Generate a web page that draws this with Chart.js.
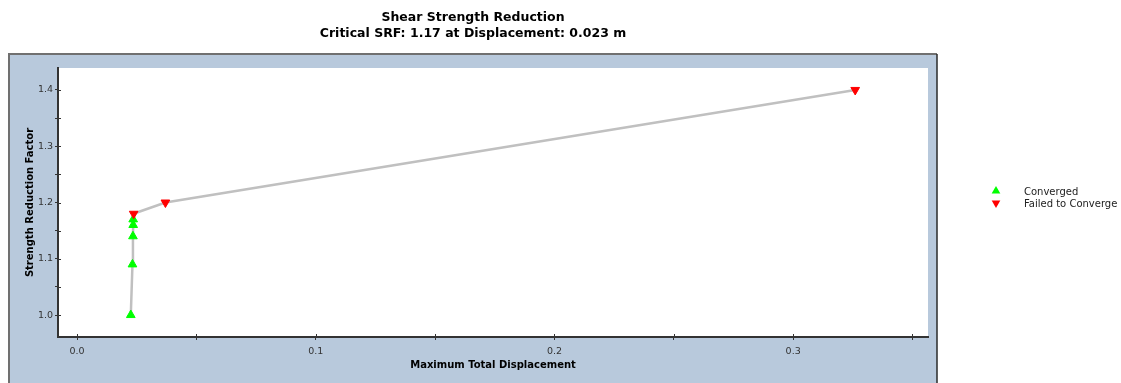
<!DOCTYPE html>
<html>
<head>
<meta charset="utf-8">
<title>Shear Strength Reduction</title>
<script src="https://cdn.jsdelivr.net/npm/chart.js@4/dist/chart.umd.min.js"></script>
<style>
  html, body { margin: 0; padding: 0; background: #ffffff; overflow: hidden; }
  #c { display: block; }
</style>
</head>
<body>
<canvas id="c" width="1121" height="383"></canvas>
<script>
// SRF analysis stages: maximum total displacement (m) vs strength reduction factor
const displacement = [0.0225, 0.0232, 0.0234, 0.0235, 0.0235, 0.0237, 0.0370, 0.3260];
const srf          = [1.00,   1.09,   1.14,   1.16,   1.17,   1.18,   1.20,   1.40];
const converged    = [true,   true,   true,   true,   true,   false,  false,  false];

const xTickLabels = [0.0, 0.1, 0.2, 0.3];
const yTickLabels = [1.0, 1.1, 1.2, 1.3, 1.4];

const seriesNames = ['Converged', 'Failed to Converge'];
const titleLines = ['Shear Strength Reduction', 'Critical SRF: 1.17 at Displacement: 0.023 m'];
const xAxisTitle = 'Maximum Total Displacement';
const yAxisTitle = 'Strength Reduction Factor';

// ---- build chart data from the arrays above ----
const allPoints = displacement.map((x, i) => ({ x, y: srf[i] }));
const okPoints = allPoints.filter((p, i) => converged[i]);
const failPoints = allPoints.filter((p, i) => !converged[i]);

const PANEL = '#b8c9dc';
const GREEN = '#00ff00';
const RED = '#ff0000';

Chart.defaults.font.family = '"DejaVu Sans", Verdana, sans-serif';
Chart.defaults.color = '#333333';

const near = (v, list) => list.some(t => Math.abs(t - v) < 1e-6);

// major ticks every 0.1 with a minor tick halfway between them
function halfStepTicks(scale) {
  const step = 0.05;
  const ticks = [];
  for (let k = Math.ceil(scale.min / step - 1e-9); k * step <= scale.max + 1e-9; k++) {
    ticks.push({ value: Math.round(k * step * 1000) / 1000 });
  }
  scale.ticks = ticks;
}

// Blue frame behind the plot, white plotting area inside it
const framePlugin = {
  id: 'frame',
  beforeDraw(chart) {
    const { ctx, chartArea: a } = chart;
    const left = chart.scales.y.left;
    const right = chart.scales.yPad.right;
    const top = a.top - 14;
    const bottom = chart.height + 2;
    ctx.save();
    ctx.fillStyle = PANEL;
    ctx.fillRect(left, top, right - left, bottom - top);
    ctx.fillStyle = '#ffffff';
    ctx.fillRect(a.left, a.top, a.right - a.left, a.bottom - a.top);
    // frame edges
    ctx.lineWidth = 2;
    ctx.strokeStyle = '#707070';
    ctx.beginPath();
    ctx.moveTo(left, bottom);
    ctx.lineTo(left, top);
    ctx.lineTo(right, top);
    ctx.stroke();
    ctx.strokeStyle = '#2a2a2a';
    ctx.lineWidth = 1.5;
    ctx.beginPath();
    ctx.moveTo(right, top);
    ctx.lineTo(right, bottom);
    ctx.stroke();
    ctx.restore();
  },
  afterDatasetsDraw(chart) {
    // tick marks continue a little way into the plot area
    const { ctx } = chart;
    const xs = chart.scales.x, ys = chart.scales.y;
    ctx.save();
    ctx.strokeStyle = '#333333';
    ctx.lineWidth = 1;
    ctx.beginPath();
    xs.ticks.forEach((t, i) => {
      const px = Math.round(xs.getPixelForTick(i)) + 0.5;
      ctx.moveTo(px, xs.top);
      ctx.lineTo(px, xs.top - 3);
    });
    ys.ticks.forEach((t, i) => {
      const py = Math.round(ys.getPixelForTick(i)) + 0.5;
      ctx.moveTo(ys.right, py);
      ctx.lineTo(ys.right + 3, py);
    });
    ctx.stroke();
    ctx.restore();
  }
};

// Legend to the right of the frame
const legendPlugin = {
  id: 'sideLegend',
  afterDraw(chart) {
    const { ctx } = chart;
    const x0 = chart.scales.yPad.right + 59;
    const y0 = 191;
    const rowH = 12;
    const styles = [
      { color: GREEN, rotation: 0 },
      { color: RED, rotation: 180 }
    ];
    ctx.save();
    seriesNames.forEach((name, i) => {
      const y = y0 + i * rowH;
      const s = styles[i];
      ctx.save();
      ctx.translate(x0, y);
      ctx.rotate(s.rotation * Math.PI / 180);
      const r = 5;
      ctx.beginPath();
      for (let k = 0; k < 3; k++) {
        const ang = k * 2 * Math.PI / 3;
        const px = Math.sin(ang) * r, py = -Math.cos(ang) * r;
        if (k === 0) ctx.moveTo(px, py); else ctx.lineTo(px, py);
      }
      ctx.closePath();
      ctx.fillStyle = s.color;
      ctx.fill();
      ctx.restore();
      ctx.fillStyle = '#222222';
      ctx.font = '10px "DejaVu Sans", Verdana, sans-serif';
      ctx.textBaseline = 'middle';
      ctx.textAlign = 'left';
      ctx.fillText(name, x0 + 28, y + 1);
    });
    ctx.restore();
  }
};

new Chart(document.getElementById('c'), {
  type: 'scatter',
  data: {
    datasets: [
      {
        label: 'path',
        type: 'line',
        data: allPoints,
        borderColor: '#c0c0c0',
        borderWidth: 2.5,
        pointRadius: 0,
        tension: 0,
        fill: false,
        order: 3
      },
      {
        label: seriesNames[0],
        data: okPoints,
        pointStyle: 'triangle',
        pointRadius: 5,
        pointBorderWidth: 1,
        backgroundColor: GREEN,
        borderColor: GREEN,
        order: 2
      },
      {
        label: seriesNames[1],
        data: failPoints,
        pointStyle: 'triangle',
        rotation: 180,
        pointRadius: 5,
        pointBorderWidth: 1,
        backgroundColor: RED,
        borderColor: RED,
        order: 1
      }
    ]
  },
  options: {
    responsive: false,
    animation: false,
    devicePixelRatio: 1,
    layout: { padding: { left: 9, right: 184, top: 0, bottom: 0 } },
    plugins: {
      legend: { display: false },
      tooltip: { enabled: false },
      title: {
        display: true,
        text: titleLines,
        color: '#000000',
        font: { size: 12.5, weight: 'bold', lineHeight: 16 / 12.5 },
        padding: { top: 10, bottom: 26 }
      }
    },
    scales: {
      x: {
        type: 'linear',
        min: -0.008,
        max: 0.3565,
        afterBuildTicks: halfStepTicks,
        afterFit(scale) { scale.height = 46; },
        ticks: {
          autoSkip: false,
          maxRotation: 0,
          padding: 6,
          color: '#333333',
          font: { size: 9.5 },
          callback: v => near(v, xTickLabels) ? v.toFixed(1) : ''
        },
        grid: { display: true, drawOnChartArea: false, drawTicks: true, tickLength: 3, color: '#333333' },
        border: { display: true, color: '#333333', width: 2 },
        title: {
          display: true,
          text: xAxisTitle,
          color: '#000000',
          font: { size: 10, weight: 'bold' },
          padding: { top: 4, bottom: 12 }
        }
      },
      y: {
        type: 'linear',
        min: 0.961,
        max: 1.439,
        afterBuildTicks: halfStepTicks,
        afterFit(scale) { scale.width = 49; },
        ticks: {
          autoSkip: false,
          padding: 2,
          color: '#333333',
          font: { size: 9.5 },
          callback: v => near(v, yTickLabels) ? v.toFixed(1) : ''
        },
        grid: { display: true, drawOnChartArea: false, drawTicks: true, tickLength: 3, color: '#333333' },
        border: { display: true, color: '#333333', width: 2 },
        title: {
          display: true,
          text: yAxisTitle,
          color: '#000000',
          font: { size: 10, weight: 'bold' },
          padding: { top: 15, bottom: 4 }
        }
      },
      yPad: {
        type: 'linear',
        position: 'right',
        display: true,
        afterFit(scale) { scale.width = 9; },
        ticks: { display: false },
        grid: { display: false, drawTicks: false },
        border: { display: false }
      }
    }
  },
  plugins: [framePlugin, legendPlugin]
});
</script>
</body>
</html>
